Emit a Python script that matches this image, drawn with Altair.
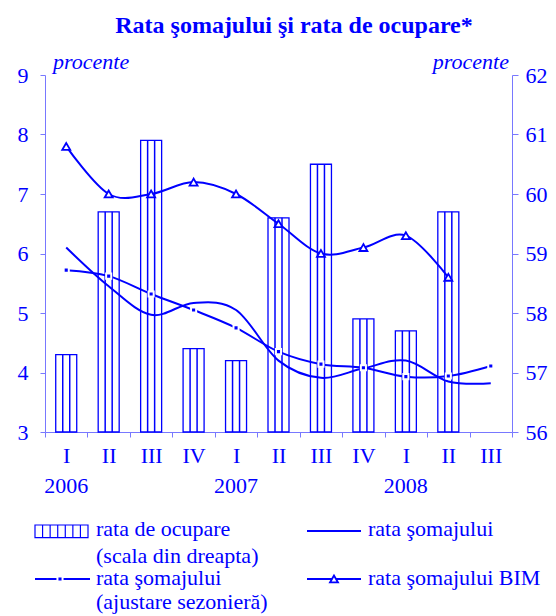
import altair as alt
import pandas as pd

# ---------------- data ----------------
periods = ["2006-I", "2006-II", "2006-III", "2006-IV",
           "2007-I", "2007-II", "2007-III", "2007-IV",
           "2008-I", "2008-II", "2008-III"]
ocupare = [57.3, 59.7, 60.9, 57.4, 57.2, 59.6, 60.5, 57.9, 57.7, 59.7, None]
somaj = [6.1, 5.45, 4.97, 5.17, 5.05, 4.2, 3.91, 4.07, 4.2, 3.85, 3.82]
somaj_sa = [5.72, 5.62, 5.32, 5.05, 4.75, 4.35, 4.14, 4.08, 3.93, 3.94, 4.11]
somaj_bim = [7.8, 7.0, 7.0, 7.2, 7.0, 6.5, 6.0, 6.1, 6.3, 5.6, None]
years = ["2006", "2007", "2008"]
year_pos = ["2006-I", "2007-I", "2008-I"]
left_ticks = [3, 4, 5, 6, 7, 8, 9]
right_ticks = [56, 57, 58, 59, 60, 61, 62]
title = "Rata şomajului şi rata de ocupare*"
unit = "procente"
leg_labels = ["rata de ocupare", "(scala din dreapta)", "rata şomajului",
              "rata şomajului", "(ajustare sezonieră)", "rata şomajului BIM"]

BLUE = "#0000ff"
AXIS = "#7878ff"
FONT = "Liberation Serif"
W, H = 467, 357
PAD_L = 37
DX = 39 - PAD_L  # keeps the page position of free texts / legend


def series(vals):
    return pd.DataFrame([{"p": p, "v": v} for p, v in zip(periods, vals) if v is not None])


df_occ = series(ocupare)
df_s = series(somaj)
df_sa = series(somaj_sa)
df_bim = series(somaj_bim)
df_years = pd.DataFrame({"p": year_pos, "t": years})

x_enc = alt.X(
    "p:N", sort=periods,
    scale=alt.Scale(type="band", domain=periods, paddingInner=0, paddingOuter=0),
    axis=alt.Axis(title=None, labelExpr="split(datum.label, '-')[1]", tickBand="extent",
                  labelFont=FONT, labelFontSize=22, labelColor=BLUE, labelAngle=0,
                  domainColor=AXIS, tickColor=AXIS, tickSize=5, labelPadding=8,
                  grid=False),
)

# ---------------- bars (right axis) ----------------
y_right = alt.Y("v:Q", scale=alt.Scale(domain=[56, 62], nice=False, zero=False),
                axis=alt.Axis(orient="right", values=right_ticks, format="d", title=None, grid=False,
                              labelFont=FONT, labelFontSize=22, labelColor=BLUE,
                              domainColor=AXIS, tickColor=AXIS, tickSize=6, labelPadding=7))
bars = alt.Chart(df_occ).mark_bar(size=21, fill="white", stroke=BLUE, strokeWidth=1.3).encode(
    x=x_enc, y=y_right, y2=alt.datum(56))
stripes = [
    alt.Chart(df_occ).mark_rule(color=BLUE, strokeWidth=1.5, xOffset=o).encode(
        x=x_enc, y="v:Q", y2=alt.datum(56))
    for o in (-3.5, 3.5)
]
bar_layer = alt.layer(bars, *stripes)

# ---------------- lines (left axis) ----------------
y_left = alt.Y("v:Q", scale=alt.Scale(domain=[3, 9], nice=False, zero=False),
               axis=alt.Axis(orient="left", values=left_ticks, format="d", title=None, grid=False,
                             labelFont=FONT, labelFontSize=22, labelColor=BLUE,
                             domainColor=AXIS, tickColor=AXIS, tickSize=5, labelPadding=12))

line_s = alt.Chart(df_s).mark_line(color=BLUE, strokeWidth=2, interpolate="cardinal").encode(x=x_enc, y=y_left)
line_sa = alt.Chart(df_sa).mark_line(color=BLUE, strokeWidth=2, interpolate="cardinal").encode(x=x_enc, y=y_left)
pts_sa = alt.Chart(df_sa).mark_square(size=26, fill=BLUE, stroke="white", strokeWidth=2, opacity=1).encode(x=x_enc, y=y_left)
line_bim = alt.Chart(df_bim).mark_line(color=BLUE, strokeWidth=2, interpolate="cardinal").encode(x=x_enc, y=y_left)
pts_bim = alt.Chart(df_bim).mark_point(shape="triangle-up", size=64, filled=True, fill="white",
                                       stroke=BLUE, strokeWidth=1.8, opacity=1).encode(x=x_enc, y=y_left)

year_text = alt.Chart(df_years).mark_text(font=FONT, fontSize=22, color=BLUE, baseline="alphabetic").encode(
    x=x_enc, y=alt.value(418), text="t:N")


def txt(s, x, y, size=22, align="left", **kw):
    return alt.Chart(pd.DataFrame({"t": [s]})).mark_text(
        font=FONT, fontSize=size, color=BLUE, align=align, baseline="alphabetic", **kw
    ).encode(x=alt.value(x + DX), y=alt.value(y), text="t:N")


one = pd.DataFrame({"a": [0]})


def hline(x1, x2, y):
    return alt.Chart(one).mark_rule(color=BLUE, strokeWidth=2).encode(
        x=alt.value(x1 + DX), x2=alt.value(x2 + DX), y=alt.value(y))


texts = [
    txt(title, 247, -42, size=24, align="center", fontWeight="bold"),
    txt(unit, 6, -6, fontStyle="italic"),
    txt(unit, 462, -6, align="right", fontStyle="italic"),
    txt(leg_labels[0], 49, 461),
    txt(leg_labels[1], 49, 488),
    txt(leg_labels[2], 321, 461),
    txt(leg_labels[3], 49, 510),
    txt(leg_labels[4], 49, 534),
    txt(leg_labels[5], 321, 510),
]

# legend glyphs
leg_rect = alt.Chart(one).mark_rect(fill="white", stroke=BLUE, strokeWidth=1.2).encode(
    x=alt.value(-12 + DX), x2=alt.value(41 + DX), y=alt.value(450), y2=alt.value(462.7))
leg_stripes = [
    alt.Chart(one).mark_rule(color=BLUE, strokeWidth=1.2).encode(
        x=alt.value(-12 + DX + k * 53 / 7), y=alt.value(450), y2=alt.value(462.7))
    for k in range(1, 7)
]
leg_line1 = hline(260, 314, 456)
leg_line2 = hline(-12, 43, 504)
leg_sq = alt.Chart(one).mark_square(size=26, fill=BLUE, stroke="white", strokeWidth=2, opacity=1).encode(
    x=alt.value(13 + DX), y=alt.value(504))
leg_line3 = hline(260, 314, 504)
leg_tri = alt.Chart(one).mark_point(shape="triangle-up", size=64, filled=True, fill="white",
                                    stroke=BLUE, strokeWidth=1.8, opacity=1).encode(
    x=alt.value(287 + DX), y=alt.value(504))

line_layer = alt.layer(line_s, line_sa, pts_sa, line_bim, pts_bim, year_text, *texts,
                       leg_rect, *leg_stripes, leg_line1, leg_line2, leg_sq, leg_line3, leg_tri)

chart = alt.layer(bar_layer, line_layer).resolve_scale(y="independent").properties(
    width=W, height=H,
    autosize=alt.AutoSizeParams(type="none"),
    padding={"left": PAD_L, "top": 67, "right": 540 - PAD_L - W, "bottom": 182},
).configure_view(stroke=None)

chart.save("out.html", embed_options={"renderer": "svg", "actions": False})
